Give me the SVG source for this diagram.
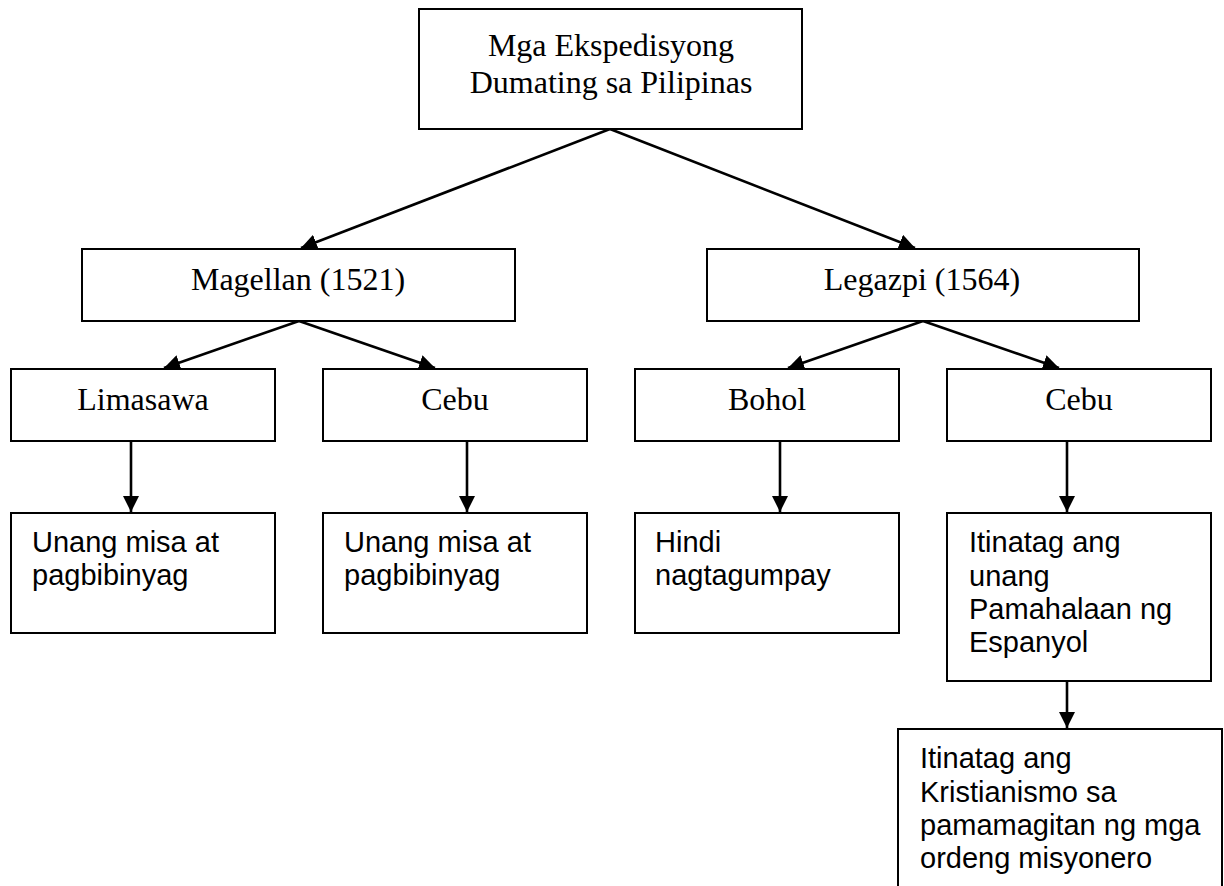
<svg xmlns="http://www.w3.org/2000/svg" width="1224" height="886" viewBox="0 0 1224 886">
<style>
.box{fill:#fff;stroke:#000;stroke-width:2}
.t{font-family:"Liberation Serif","Times New Roman",serif;font-size:32px;fill:#000;text-anchor:middle}
.a{font-family:"Liberation Sans",Arial,sans-serif;font-size:29px;fill:#000}
.c{fill:none;stroke:#000;stroke-width:2.6;marker-end:url(#ah)}
</style>
<defs>
<marker id="ah" markerUnits="userSpaceOnUse" markerWidth="17" markerHeight="16" refX="16" refY="8" orient="auto">
<path d="M0,0 L16,8 L0,16 z" fill="#000"/>
</marker>
</defs>
<rect width="1224" height="886" fill="#fff"/>
<g id="connectors">
<line class="c" x1="610" y1="129" x2="301" y2="248"/>
<line class="c" x1="610" y1="129" x2="915" y2="248"/>
<line class="c" x1="299" y1="321" x2="164" y2="368"/>
<line class="c" x1="299" y1="321" x2="435" y2="368"/>
<line class="c" x1="923" y1="321" x2="788" y2="368"/>
<line class="c" x1="923" y1="321" x2="1059" y2="368"/>
<line class="c" x1="131" y1="441" x2="131" y2="512"/>
<line class="c" x1="467" y1="441" x2="467" y2="512"/>
<line class="c" x1="780" y1="441" x2="780" y2="512"/>
<line class="c" x1="1067" y1="441" x2="1067" y2="512"/>
<line class="c" x1="1067" y1="681" x2="1067" y2="728"/>
</g>
<g id="root">
<rect class="box" x="419" y="9" width="383" height="120"/>
<text class="t" x="611" y="56">Mga Ekspedisyong</text>
<text class="t" x="611" y="93">Dumating sa Pilipinas</text>
</g>
<g id="magellan">
<rect class="box" x="82" y="249" width="433" height="72"/>
<text class="t" x="298" y="290">Magellan (1521)</text>
</g>
<g id="legazpi">
<rect class="box" x="707" y="249" width="432" height="72"/>
<text class="t" x="922" y="290">Legazpi (1564)</text>
</g>
<g id="limasawa">
<rect class="box" x="11" y="369" width="264" height="72"/>
<text class="t" x="143" y="410">Limasawa</text>
</g>
<g id="cebu1">
<rect class="box" x="323" y="369" width="264" height="72"/>
<text class="t" x="455" y="410">Cebu</text>
</g>
<g id="bohol">
<rect class="box" x="635" y="369" width="264" height="72"/>
<text class="t" x="767" y="410">Bohol</text>
</g>
<g id="cebu2">
<rect class="box" x="947" y="369" width="264" height="72"/>
<text class="t" x="1079" y="410">Cebu</text>
</g>
<g id="misa1">
<rect class="box" x="11" y="513" width="264" height="120"/>
<text class="a" x="32" y="552">Unang misa at</text>
<text class="a" x="32" y="585">pagbibinyag</text>
</g>
<g id="misa2">
<rect class="box" x="323" y="513" width="264" height="120"/>
<text class="a" x="344" y="552">Unang misa at</text>
<text class="a" x="344" y="585">pagbibinyag</text>
</g>
<g id="hindi">
<rect class="box" x="635" y="513" width="264" height="120"/>
<text class="a" x="655" y="552">Hindi</text>
<text class="a" x="655" y="585">nagtagumpay</text>
</g>
<g id="pamahalaan">
<rect class="box" x="947" y="513" width="264" height="168"/>
<text class="a" x="969" y="552">Itinatag ang</text>
<text class="a" x="969" y="585.5">unang</text>
<text class="a" x="969" y="619">Pamahalaan ng</text>
<text class="a" x="969" y="652">Espanyol</text>
</g>
<g id="kristianismo">
<rect class="box" x="898" y="729" width="324" height="170"/>
<text class="a" x="920" y="768">Itinatag ang</text>
<text class="a" x="920" y="801.5">Kristianismo sa</text>
<text class="a" x="920" y="835">pamamagitan ng mga</text>
<text class="a" x="920" y="868">ordeng misyonero</text>
</g>
</svg>
